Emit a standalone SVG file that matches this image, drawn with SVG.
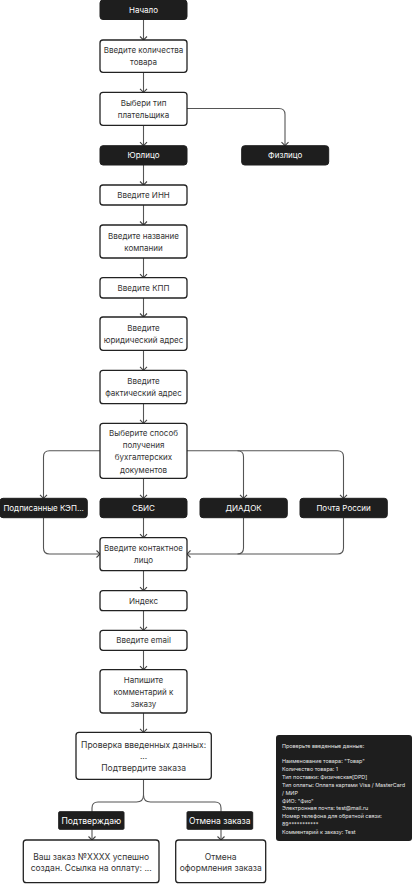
<svg xmlns="http://www.w3.org/2000/svg" width="412" height="884" viewBox="0 0 412 884">
<defs>
<marker id="arr" viewBox="-5 -5 10 10" refX="0" refY="0" markerWidth="10" markerHeight="10" markerUnits="userSpaceOnUse" orient="auto">
<path d="M-3.5,-3.5 L0,0 L-3.5,3.5" fill="none" stroke="#444" stroke-width="1.1"/>
</marker>
</defs>
<style>
.w{fill:#fff;stroke:#222;stroke-width:1.3}
.b{fill:#1e1e1e;stroke:#1e1e1e;stroke-width:1}
.t{font-family:Inter,"Noto Sans",sans-serif;font-size:8px;fill:#333;text-anchor:middle}
.tw{font-family:Inter,"Noto Sans",sans-serif;font-size:8px;fill:#fff;text-anchor:middle}
.tl{font-size:8.5px}
.c{fill:none;stroke:#555;stroke-width:1.1}
.p{font-family:Inter,"Noto Sans",sans-serif;font-size:5.4px;fill:#e6e6e6}
</style>
<rect width="412" height="884" fill="#fff"/>
<g id="connectors">
<path class="c" d="M143.5,19.5 V40" marker-end="url(#arr)"/>
<path class="c" d="M143.5,72.3 V92.3" marker-end="url(#arr)"/>
<path class="c" d="M143.5,125.3 V145.7" marker-end="url(#arr)"/>
<path class="c" d="M187,108.5 H279 Q285,108.5 285,114.5 V145.7" marker-end="url(#arr)"/>
<path class="c" d="M143.5,165 V185" marker-end="url(#arr)"/>
<path class="c" d="M143.5,205 V225" marker-end="url(#arr)"/>
<path class="c" d="M143.5,258 V277.7" marker-end="url(#arr)"/>
<path class="c" d="M143.5,298 V317" marker-end="url(#arr)"/>
<path class="c" d="M143.5,350.3 V370.3" marker-end="url(#arr)"/>
<path class="c" d="M143.5,403.7 V423.3" marker-end="url(#arr)"/>
<path class="c" d="M100,450.7 H49.5 Q43.5,450.7 43.5,456.7 V498.3" marker-end="url(#arr)"/>
<path class="c" d="M143.5,478.3 V498.3" marker-end="url(#arr)"/>
<path class="c" d="M187,450.7 H237.5 Q243.5,450.7 243.5,456.7 V498.3" marker-end="url(#arr)"/>
<path class="c" d="M237.5,450.7 H337.5 Q343.5,450.7 343.5,456.7 V498.3" marker-end="url(#arr)"/>
<path class="c" d="M43.5,517.7 V548 Q43.5,554 49.5,554 H100" marker-end="url(#arr)"/>
<path class="c" d="M143.5,517.7 V537.7" marker-end="url(#arr)"/>
<path class="c" d="M243.5,517.7 V548 Q243.5,554 237.5,554 H187" marker-end="url(#arr)"/>
<path class="c" d="M343.5,517.7 V548 Q343.5,554 337.5,554 H237.5"/>
<path class="c" d="M143.5,570.7 V590.7" marker-end="url(#arr)"/>
<path class="c" d="M143.5,610.7 V630.3" marker-end="url(#arr)"/>
<path class="c" d="M143.5,650.3 V669.7" marker-end="url(#arr)"/>
<path class="c" d="M143.5,713 V732.3" marker-end="url(#arr)"/>
<path class="c" d="M143.5,779.3 V795 Q143.5,802 136.5,802 H98 Q92,802 92,808 V840" marker-end="url(#arr)"/>
<path class="c" d="M143.5,795 Q143.5,802 150.5,802 H215 Q221,802 221,808 V840" marker-end="url(#arr)"/>
</g>
<g id="start"><rect class="b" x="100" y="0" width="87" height="19.5" rx="3"/><text class="tw" x="143.5" y="12.7">Начало</text></g>
<g id="qty"><rect class="w" x="100" y="40" width="87" height="32.3" rx="3"/><text class="t" x="143.5" y="53">Введите количества</text><text class="t" x="143.5" y="65">товара</text></g>
<g id="payer"><rect class="w" x="100" y="92.3" width="87" height="33" rx="3"/><text class="t" x="143.5" y="105.7">Выбери тип</text><text class="t" x="143.5" y="117.7">плательщика</text></g>
<g id="legal"><rect class="b" x="100" y="145.7" width="87" height="19.3" rx="3"/><text class="tw" x="143.5" y="158.3">Юрлицо</text></g>
<g id="person"><rect class="b" x="241.7" y="145.7" width="87" height="19.3" rx="3"/><text class="tw" x="285.2" y="158.3">Физлицо</text></g>
<g id="inn"><rect class="w" x="100" y="185" width="87" height="20" rx="3"/><text class="t" x="143.5" y="197.8">Введите ИНН</text></g>
<g id="company"><rect class="w" x="100" y="225" width="87" height="33" rx="3"/><text class="t" x="143.5" y="238.5">Введите название</text><text class="t" x="143.5" y="250.5">компании</text></g>
<g id="kpp"><rect class="w" x="100" y="277.7" width="87" height="20.3" rx="3"/><text class="t" x="143.5" y="290.7">Введите КПП</text></g>
<g id="legaladdr"><rect class="w" x="100" y="317" width="87" height="33.3" rx="3"/><text class="t" x="143.5" y="330.7">Введите</text><text class="t" x="143.5" y="342.7">юридический адрес</text></g>
<g id="factaddr"><rect class="w" x="100" y="370.3" width="87" height="33.4" rx="3"/><text class="t" x="143.5" y="384">Введите</text><text class="t" x="143.5" y="396">фактический адрес</text></g>
<g id="docs"><rect class="w" x="100" y="423.3" width="87" height="55" rx="3"/><text class="t" x="143.5" y="435.8">Выберите способ</text><text class="t" x="143.5" y="448">получения</text><text class="t" x="143.5" y="460.2">бухгалтерских</text><text class="t" x="143.5" y="472.5">документов</text></g>
<g id="kep"><rect class="b" x="0" y="498.3" width="87.3" height="19.4" rx="3"/><text class="tw" x="43.6" y="511">Подписанные КЭП...</text></g>
<g id="sbis"><rect class="b" x="100" y="498.3" width="87" height="19.4" rx="3"/><text class="tw" x="143.5" y="511">СБИС</text></g>
<g id="diadoc"><rect class="b" x="200" y="498.3" width="87.3" height="19.4" rx="3"/><text class="tw" x="243.6" y="511">ДИАДОК</text></g>
<g id="post"><rect class="b" x="300" y="498.3" width="87.3" height="19.4" rx="3"/><text class="tw" x="343.6" y="511">Почта России</text></g>
<g id="contact"><rect class="w" x="100" y="537.7" width="87" height="33" rx="3"/><text class="t" x="143.5" y="551.2">Введите контактное</text><text class="t" x="143.5" y="563.2">лицо</text></g>
<g id="index"><rect class="w" x="100" y="590.7" width="87" height="20" rx="3"/><text class="t" x="143.5" y="603.5">Индекс</text></g>
<g id="email"><rect class="w" x="100" y="630.3" width="87" height="20" rx="3"/><text class="t" x="143.5" y="643.1">Введите email</text></g>
<g id="comment"><rect class="w" x="100" y="669.7" width="87" height="43.3" rx="3"/><text class="t" x="143.5" y="682.8">Напишите</text><text class="t" x="143.5" y="694.8">комментарий к</text><text class="t" x="143.5" y="706.8">заказу</text></g>
<g id="check"><rect class="w" x="76" y="732.3" width="135.3" height="47" rx="3"/><text class="t tl" x="143.6" y="747.6">Проверка введенных данных:</text><text class="t tl" x="143.6" y="759.4">...</text><text class="t tl" x="143.6" y="771.2">Подтвердите заказа</text></g>
<g id="confirm"><rect class="b" x="58.7" y="811.7" width="65.3" height="17.6" rx="1"/><text class="tw tl" x="91.3" y="823.5">Подтверждаю</text></g>
<g id="cancel"><rect class="b" x="187" y="811.7" width="65.7" height="17.6" rx="1"/><text class="tw tl" x="219.8" y="823.5">Отмена заказа</text></g>
<g id="success"><rect class="w" x="23.3" y="840" width="135.7" height="42.7" rx="3"/><text class="t tl" x="91.2" y="859.6">Ваш заказ №XXXX успешно</text><text class="t tl" x="91.2" y="871.3">создан. Ссылка на оплату: ...</text></g>
<g id="cancelled"><rect class="w" x="175.7" y="840" width="90" height="42.7" rx="3"/><text class="t tl" x="220.7" y="859.6">Отмена</text><text class="t tl" x="220.7" y="871.3">оформления заказа</text></g>
<g id="panel"><rect x="276" y="735" width="136" height="106" rx="3" fill="#1e1e1e"/>
<text class="p" x="282" y="747.5">Проверьте введенные данные:</text>
<text class="p" x="282" y="763">Наименование товара: "Товар"</text>
<text class="p" x="282" y="770.9">Количество товара: 1</text>
<text class="p" x="282" y="778.8">Тип поставки: Физическая[DPD]</text>
<text class="p" x="282" y="786.7">Тип оплаты: Оплата картами Visa / MasterCard</text>
<text class="p" x="282" y="794.6">/ МИР</text>
<text class="p" x="282" y="802.5">ФИО: "Фио"</text>
<text class="p" x="282" y="810.4">Электронная почта: test@mail.ru</text>
<text class="p" x="282" y="818.3">Номер телефона для обратной связи:</text>
<text class="p" x="282" y="826.2">89***********</text>
<text class="p" x="282" y="834.1">Комментарий к заказу: Test</text>
</g>
</svg>
